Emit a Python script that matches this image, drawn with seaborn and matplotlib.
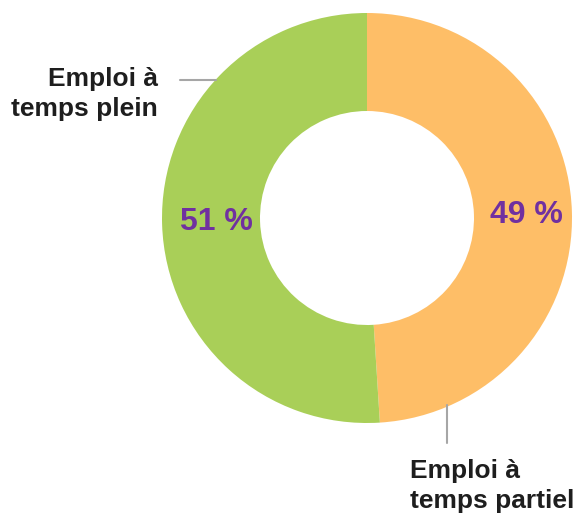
import matplotlib.pyplot as plt
import seaborn as sns

# data
categories = ['Emploi à\ntemps partiel', 'Emploi à\ntemps plein']
shares = [49, 51]
pct_labels = ['49 %', '51 %']

sns.set_theme(style='white')
plt.rcParams['font.family'] = ['Liberation Sans', 'DejaVu Sans']
colors = sns.color_palette(['#FEBE67', '#A9CF58'])

W, H = 579, 516
fig = plt.figure(figsize=(W / 100, H / 100), dpi=100)
ax = fig.add_axes([0, 0, 1, 1])

cx, cy, r = 367, H - 218, 205
wedges, _ = ax.pie(shares, colors=colors, startangle=90, counterclock=False,
                   center=(cx, cy), radius=r, frame=True,
                   wedgeprops=dict(width=r - 107, linewidth=0))
ax.set_xlim(0, W)
ax.set_ylim(0, H)
ax.set_aspect('equal')
ax.axis('off')

# percentage labels inside ring
ax.text(526, H - 215, pct_labels[0], color='#7030A0', fontsize=23, fontweight='bold',
        ha='center', va='center')
ax.text(216, H - 222, pct_labels[1], color='#7030A0', fontsize=23, fontweight='bold',
        ha='center', va='center')

# category labels with leader lines
ax.plot([180, 216], [H - 80, H - 80], color='#A6A6A6', lw=1.5)
ax.text(158, H - 94, categories[1], color='#1E1E1E', fontsize=19, fontweight='bold',
        ha='right', va='center', linespacing=1.3)
ax.plot([447, 447], [H - 405, H - 443], color='#A6A6A6', lw=1.5)
ax.text(410, H - 486, categories[0], color='#1E1E1E', fontsize=19, fontweight='bold',
        ha='left', va='center', linespacing=1.3)

fig.savefig('out.png', dpi=100)
